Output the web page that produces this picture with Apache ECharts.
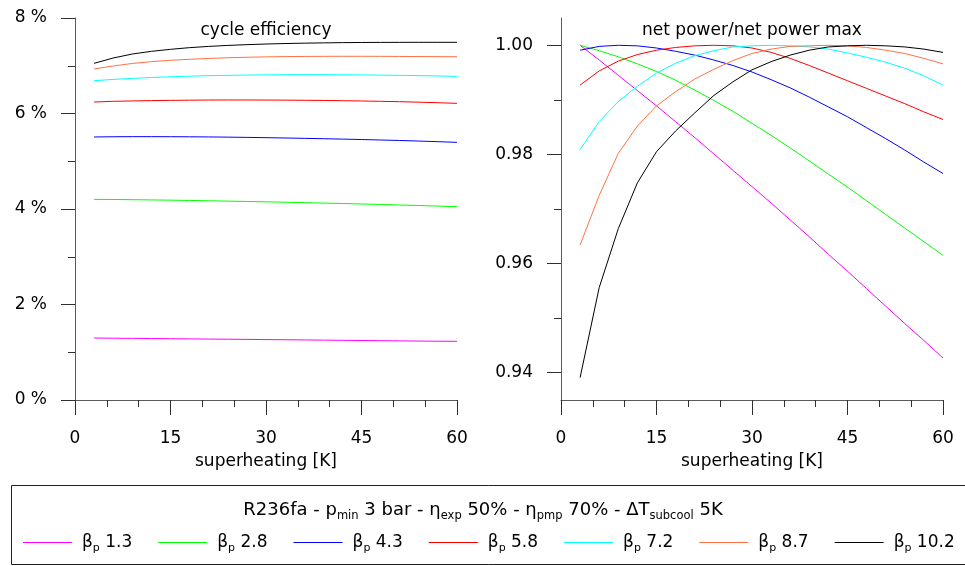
<!DOCTYPE html>
<html>
<head>
<meta charset="utf-8">
<script src="https://cdn.jsdelivr.net/npm/echarts@6/dist/echarts.min.js"></script>
<style>html,body{margin:0;padding:0;background:#fff}#c{width:965px;height:566px}</style>
</head>
<body>
<div id="c"></div>
<script>
// ---- data ----
const superheat = [3,6,9,12,15,18,21,24,27,30,33,36,39,42,45,48,51,54,57,60];
const betaLabels = ['1.3','2.8','4.3','5.8','7.2','8.7','10.2'];

// cycle efficiency [%]
const eff13  = [1.298,1.294,1.291,1.287,1.284,1.280,1.276,1.273,1.269,1.265,1.262,1.258,1.254,1.250,1.246,1.242,1.238,1.234,1.231,1.229];
const eff28  = [4.202,4.199,4.195,4.190,4.185,4.179,4.172,4.165,4.158,4.150,4.142,4.133,4.124,4.115,4.105,4.095,4.084,4.073,4.061,4.049];
const eff43  = [5.508,5.513,5.515,5.515,5.514,5.512,5.509,5.505,5.500,5.494,5.487,5.480,5.472,5.464,5.455,5.445,5.435,5.423,5.410,5.396];
const eff58  = [6.241,6.255,6.263,6.270,6.275,6.279,6.282,6.283,6.283,6.282,6.280,6.277,6.273,6.268,6.262,6.255,6.247,6.237,6.226,6.213];
const eff72  = [6.687,6.714,6.735,6.754,6.769,6.782,6.792,6.799,6.805,6.809,6.812,6.813,6.813,6.811,6.808,6.804,6.799,6.793,6.786,6.778];
const eff87  = [6.932,6.995,7.048,7.086,7.114,7.135,7.153,7.167,7.178,7.186,7.192,7.195,7.197,7.198,7.198,7.197,7.195,7.193,7.191,7.189];
const eff102 = [7.051,7.162,7.246,7.302,7.344,7.379,7.405,7.426,7.442,7.455,7.465,7.473,7.479,7.484,7.487,7.489,7.490,7.491,7.491,7.491];

// net power / net power max
const pow13  = [1.0000,0.9973,0.9945,0.9917,0.9889,0.9860,0.9831,0.9801,0.9771,0.9741,0.9711,0.9680,0.9649,0.9617,0.9586,0.9554,0.9522,0.9490,0.9459,0.9427];
const pow28  = [1.0000,0.9990,0.9979,0.9966,0.9952,0.9936,0.9918,0.9899,0.9879,0.9857,0.9835,0.9812,0.9788,0.9764,0.9740,0.9715,0.9690,0.9665,0.9640,0.9615];
const pow43  = [0.9991,0.9998,1.0000,0.9999,0.9995,0.9989,0.9982,0.9973,0.9963,0.9951,0.9937,0.9922,0.9905,0.9887,0.9869,0.9849,0.9829,0.9808,0.9786,0.9765];
const pow58  = [0.9927,0.9953,0.9971,0.9983,0.9991,0.9996,0.9999,1.0000,0.9999,0.9995,0.9987,0.9976,0.9963,0.9949,0.9935,0.9921,0.9907,0.9893,0.9878,0.9864];
const pow72  = [0.9809,0.9860,0.9897,0.9925,0.9949,0.9967,0.9981,0.9990,0.9997,0.9999,1.0000,0.9999,0.9997,0.9993,0.9986,0.9978,0.9969,0.9958,0.9944,0.9927];
const pow87  = [0.9634,0.9725,0.9802,0.9852,0.9889,0.9915,0.9938,0.9956,0.9972,0.9985,0.9993,0.9998,0.9999,1.0000,0.9999,0.9996,0.9991,0.9985,0.9976,0.9966];
const pow102 = [0.9391,0.9556,0.9664,0.9748,0.9805,0.9843,0.9876,0.9908,0.9933,0.9955,0.9970,0.9982,0.9991,0.9997,0.9999,1.0000,0.9999,0.9997,0.9993,0.9987];

// ticks
const xTicks = [0,15,30,45,60];
const xMinorTicks = [5,10,20,25,35,40,50,55];
const effTicks = [0,2,4,6,8];
const effMinorTicks = [1,3,5,7];
const powTicks = [0.94,0.96,0.98,1.00];
const powMinorTicks = [0.95,0.97,0.99];

// ---- chart ----
const FONT = 'DejaVu Sans';
const colors = ['#ff00ff','#00ff00','#0000ff','#ff0000','#00ffff','#ff7245','#000000'];
const effSets = [eff13, eff28, eff43, eff58, eff72, eff87, eff102];
const powSets = [pow13, pow28, pow43, pow58, pow72, pow87, pow102];
const names = betaLabels.map(b => 'β_p ' + b);

const lineCol = '#5a5a5a', tickCol = '#303030';
const labelStyle = {color:'#000', fontSize:17, fontFamily:FONT};

function majorX(grid) {
  return {
    type:'value', gridIndex:grid, min:0, max:60, position:'bottom',
    name:'superheating [K]', nameLocation:'middle', nameGap:53,
    nameTextStyle:{color:'#000', fontSize:17, fontFamily:FONT},
    axisLine:{show:true, onZero:false, lineStyle:{color:lineCol, width:1}},
    axisTick:{show:true, length:15, customValues:xTicks, lineStyle:{color:tickCol, width:1}},
    axisLabel:Object.assign({margin:30, customValues:xTicks}, labelStyle),
    splitLine:{show:false}
  };
}
function minorX(grid) {
  return {
    type:'value', gridIndex:grid, min:0, max:60, position:'bottom',
    axisLine:{show:false, onZero:false},
    axisTick:{show:true, length:7, customValues:xMinorTicks, lineStyle:{color:tickCol, width:1}},
    axisLabel:{show:false}, splitLine:{show:false}
  };
}
function majorY(grid, min, max, ticks, fmt) {
  return {
    type:'value', gridIndex:grid, min:min, max:max, position:'left',
    axisLine:{show:true, onZero:false, lineStyle:{color:lineCol, width:1}},
    axisTick:{show:true, length:14, customValues:ticks, lineStyle:{color:tickCol, width:1}},
    axisLabel:Object.assign({margin:28, customValues:ticks, formatter:fmt}, labelStyle),
    splitLine:{show:false}
  };
}
function minorY(grid, min, max, ticks) {
  return {
    type:'value', gridIndex:grid, min:min, max:max, position:'left',
    axisLine:{show:false, onZero:false},
    axisTick:{show:true, length:7, customValues:ticks, lineStyle:{color:tickCol, width:1}},
    axisLabel:{show:false}, splitLine:{show:false}
  };
}

const series = [];
names.forEach((n, i) => {
  series.push({
    name:n, type:'line', xAxisIndex:0, yAxisIndex:0, symbol:'none', smooth:false,
    color:colors[i], lineStyle:{width:1, color:colors[i]},
    data: superheat.map((x, k) => [x, effSets[i][k]])
  });
});
names.forEach((n, i) => {
  series.push({
    name:n, type:'line', xAxisIndex:2, yAxisIndex:2, symbol:'none', smooth:false,
    color:colors[i], lineStyle:{width:1, color:colors[i]},
    data: superheat.map((x, k) => [x, powSets[i][k]])
  });
});

const chart = echarts.init(document.getElementById('c'), null, {renderer:'canvas'});
chart.setOption({
  animation:false,
  backgroundColor:'#fff',
  grid:[
    {left:75, top:18, width:382, height:382, outerBoundsMode:'none'},
    {left:561, top:18, width:382, height:382, outerBoundsMode:'none'}
  ],
  xAxis:[majorX(0), minorX(0), majorX(1), minorX(1)],
  yAxis:[
    majorY(0, 0, 8, effTicks, v => v + ' %'),
    minorY(0, 0, 8, effMinorTicks),
    majorY(1, 0.935, 1.005, powTicks, v => v.toFixed(2)),
    minorY(1, 0.935, 1.005, powMinorTicks)
  ],
  title:[
    {text:'cycle efficiency', left:266, top:22, textAlign:'center', padding:0,
     textStyle:{fontSize:17, fontWeight:'normal', fontFamily:FONT, color:'#000'}},
    {text:'net power/net power max', left:752, top:22, textAlign:'center', padding:0,
     textStyle:{fontSize:17, fontWeight:'normal', fontFamily:FONT, color:'#000'}},
    {text:'{m|R236fa - p}{s|min}{m| 3 bar - η}{s|exp}{m| 50% - η}{s|pmp}{m| 70% - ΔT}{s|subcool}{m| 5K}',
     left:483, top:499, textAlign:'center', padding:0,
     textStyle:{fontWeight:'normal', fontFamily:FONT, color:'#000',
       rich:{
         m:{fontSize:18, lineHeight:23, fontFamily:FONT, color:'#000'},
         s:{fontSize:11.5, lineHeight:13, verticalAlign:'bottom', fontFamily:FONT, color:'#000'}
       }}}
  ],
  legend:{
    data:names, left:23, top:534, width:960, padding:0, orient:'horizontal',
    icon:'rect', itemWidth:49, itemHeight:1, itemGap:26, selectedMode:false,
    formatter: n => '{g|β}{s|p}{g| ' + n.split(' ')[1] + '}',
    textStyle:{fontFamily:FONT, fontSize:17, color:'#000', padding:[0,0,0,5],
      rich:{
        g:{fontSize:17, lineHeight:22, fontFamily:FONT, color:'#000'},
        s:{fontSize:11, lineHeight:13, verticalAlign:'bottom', fontFamily:FONT, color:'#000'}
      }}
  },
  graphic:[
    {type:'rect', silent:true, z:-10,
     shape:{x:11.5, y:485.5, width:990, height:79},
     style:{fill:'none', stroke:'#222', lineWidth:1}}
  ],
  series:series
});
</script>
</body>
</html>
